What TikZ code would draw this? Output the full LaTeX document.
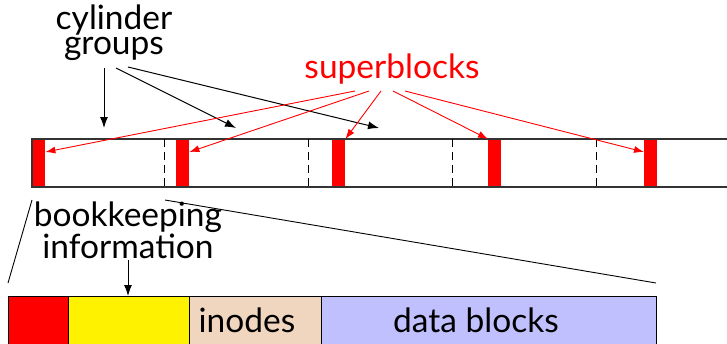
\documentclass[tikz,border=0pt]{standalone}
\usepackage{fontspec}
\setmainfont{Lato}
\usetikzlibrary{arrows.meta}
\definecolor{tanc}{HTML}{F0D6BE}
\definecolor{lav}{HTML}{C0C0FF}
\begin{document}
\begin{tikzpicture}[x=1pt,y=-1pt,
  lbl/.style={font=\fontsize{33.5}{22.5}\selectfont, align=center, inner sep=0pt},
  blk/.style={-{Latex[length=11pt,width=8pt]}, line width=1pt},
  redarr/.style={-{Latex[length=10pt,width=7pt]}, line width=0.9pt, red},
  sbox/.style={fill=red, draw=none},
  barline/.style={line width=1.2pt, draw=black!80},
  sep/.style={dashed, dash pattern=on 8pt off 5pt, line width=1pt},
  zoomline/.style={line width=0.9pt},
  seg/.style={draw=black, line width=0.6pt}]
\useasboundingbox (0,0) rectangle (727,343);
% top bar
\fill[white] (32,139) rectangle (740,187);
\foreach \i/\x in {1/32,2/176,3/332,4/488,5/644}
  \node[sbox, minimum width=13pt, minimum height=48pt, inner sep=0pt, anchor=north west] (sb\i) at (\x,139) {};
\draw[barline] (740,139) -- (32,139) -- (32,187) -- (740,187);
\foreach \x in {164,308,452,596}
  \draw[sep] (\x,139) -- (\x,187);
% labels
\node[lbl, anchor=base] (cg) at (114,54) {cylinder\\groups};
\node[lbl, red, anchor=base] (sb) at (392,78) {superblocks};
% black arrows
\coordinate (t1) at (104,128);
\coordinate (t2) at (236,128);
\coordinate (t3) at (379,128);
\draw[blk] ([xshift=-10pt,yshift=-14pt]cg.base) -- (t1);
\draw[blk] ([xshift=2pt,yshift=-14pt]cg.base) -- (t2);
\draw[blk] ([xshift=14pt,yshift=-13pt]cg.base) -- (t3);
% red arrows
\draw[redarr] ([xshift=-37pt,yshift=-13pt]sb.base) -- ([yshift=-13pt]sb1.north east);
\draw[redarr] ([xshift=-23pt,yshift=-13pt]sb.base) -- ([yshift=-13pt]sb2.north east);
\draw[redarr] ([xshift=-11pt,yshift=-13pt]sb.base) -- (sb3.north east);
\draw[redarr] ([xshift=1pt,yshift=-13pt]sb.base) -- (sb4.north west);
\draw[redarr] ([xshift=13pt,yshift=-13pt]sb.base) -- ([yshift=-13pt]sb5.north west);
% zoom lines
\coordinate (za) at (32,200);
\coordinate (zb) at (8,283);
\coordinate (zc) at (165,200);
\coordinate (zd) at (656,283);
\draw[zoomline] (za) -- (zb);
\draw[zoomline] (zc) -- (zd);
% bottom bar
\node[seg, fill=red, minimum width=60pt, minimum height=60pt, inner sep=0pt, anchor=north west] (r1) at (8,296) {};
\node[seg, fill=yellow, minimum width=121pt, minimum height=60pt, inner sep=0pt, anchor=north west] (r2) at (68,296) {};
\node[seg, fill=tanc, minimum width=132pt, minimum height=60pt, inner sep=0pt, anchor=north west] (r3) at (189,296) {};
\node[seg, fill=lav, minimum width=335pt, minimum height=60pt, inner sep=0pt, anchor=north west] (r4) at (321,296) {};
\node[lbl, anchor=base] (ino) at (247,332) {inodes};
\node[lbl, anchor=base] (db) at (476,332) {data blocks};
\node[lbl, anchor=base] (bk) at (128,258) {bookkeeping\\information};
\coordinate (bkt) at (128,296);
\draw[blk] ([yshift=-2pt]bk.base) -- (bkt);
\end{tikzpicture}
\end{document}
